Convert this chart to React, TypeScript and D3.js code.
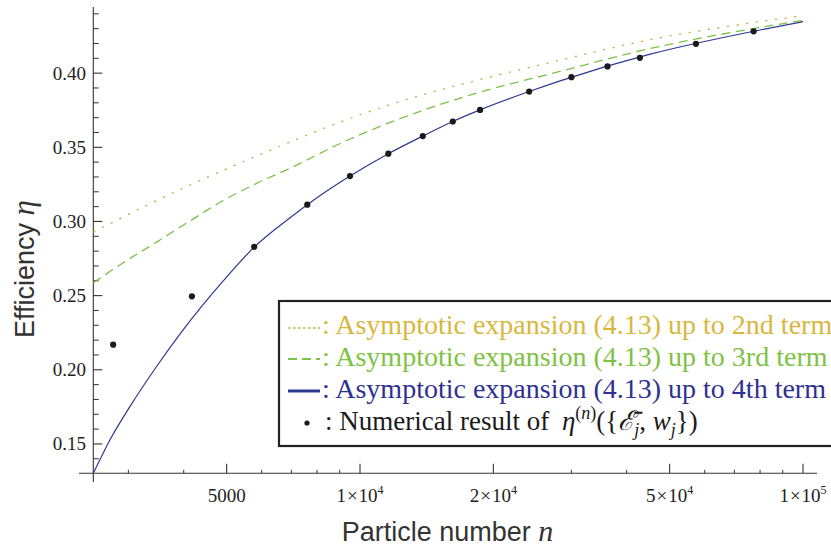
import React from 'react';
import * as d3 from 'd3';

// values
const nTerm2 = [2500, 3240, 4201, 5173, 6596, 9333, 13192, 18664, 27560, 45200, 76040, 100000];
const etaTerm2 = [0.2928, 0.3097, 0.3255, 0.3374, 0.3507, 0.3687, 0.3836, 0.3957, 0.4079, 0.4226, 0.4338, 0.4388];

const nTerm3 = [2500, 2920, 3474, 4130, 4911, 5844, 6830, 9333, 13192, 18664, 27560, 45200, 76040, 100000];
const etaTerm3 = [0.2586, 0.2722, 0.2861, 0.3003, 0.3141, 0.3257, 0.3348, 0.3546, 0.3726, 0.3872, 0.4003, 0.4166, 0.4297, 0.4356];

const nTerm4 = [2500, 2725, 3024, 3474, 3956, 4911, 5770, 6950, 7603, 9493, 11586, 13860, 16196, 18664, 24090, 28300, 45200, 77240, 100000];
const etaTerm4 = [0.1302, 0.1527, 0.1752, 0.2022, 0.2255, 0.2599, 0.2827, 0.3025, 0.3113, 0.3306, 0.3457, 0.3576, 0.3674, 0.3752, 0.3876, 0.3948, 0.4128, 0.4282, 0.4347];

const nNumerical = [2772, 4174, 5770, 7603, 9493, 11586, 13860, 16196, 18664, 24090, 30010, 36200, 42830, 57330, 77360];
const etaNumerical = [0.2169, 0.2495, 0.2829, 0.3113, 0.3306, 0.3457, 0.3576, 0.3674, 0.3752, 0.3876, 0.3973, 0.4045, 0.4103, 0.4198, 0.4282];

const xMajorTicks = [5000, 10000, 20000, 50000, 100000];
const xMajorMantissa = ['5000', '1', '2', '5', '1'];
const xMajorExponent = ['', '4', '4', '4', '5'];
const xMinorTicks = [3000, 4000, 6000, 7000, 8000, 9000, 30000, 40000, 60000, 70000, 80000, 90000];

const yMajorTicks = [0.15, 0.2, 0.25, 0.3, 0.35, 0.4];
const yMajorLabels = ['0.15', '0.20', '0.25', '0.30', '0.35', '0.40'];
const yMinorTicks = [0.14, 0.16, 0.17, 0.18, 0.19, 0.21, 0.22, 0.23, 0.24, 0.26, 0.27, 0.28, 0.29,
    0.31, 0.32, 0.33, 0.34, 0.36, 0.37, 0.38, 0.39, 0.41, 0.42, 0.43, 0.44];

const legendLabels = [
    ': Asymptotic expansion (4.13) up to 2nd term',
    ': Asymptotic expansion (4.13) up to 3rd term',
    ': Asymptotic expansion (4.13) up to 4th term',
];

const yellowLine = '#c4b04a';
const yellowText = '#d8b73c';
const greenLine = '#7cc24a';
const greenText = '#7dc243';
const blueLine = '#2d3a92';
const blueText = '#2e3192';
const axisColor = '#333';

const serif = '"Liberation Serif", "Times New Roman", serif';
const sans = '"Liberation Sans", Arial, sans-serif';

const App = () => {
    const width = 831, height = 548;
    const x0 = 93.3, x1 = 803;
    const yTop = 7, yBottom = 473.3;

    const xScale = d3.scaleLog().domain([2500, 100000]).range([x0, x1]);
    const yScale = d3.scaleLinear().domain([0.1302, 0.4446]).range([yBottom, yTop]);

    const line = (ns, etas) => d3.line()
        .x(d => xScale(d[0]))
        .y(d => yScale(d[1]))
        .curve(d3.curveMonotoneX)(ns.map((n, i) => [n, etas[i]]));

    const legendTop = 301;
    const rowY = [334, 366, 398, 430];
    const legendFont = 28;

    return (
        <svg width={width} height={height} style={{ position: 'absolute', left: 0, top: 0, background: '#fff' }}>
            {/* axes */}
            <line x1={x0} y1={yTop} x2={x0} y2={482} stroke={axisColor} strokeWidth={1.1} />
            <line x1={79} y1={yBottom} x2={817} y2={yBottom} stroke={axisColor} strokeWidth={1.1} />

            {yMinorTicks.map(t => (
                <line key={'ym' + t} x1={x0} x2={x0 + 5.5} y1={yScale(t)} y2={yScale(t)} stroke={axisColor} strokeWidth={1} />
            ))}
            {yMajorTicks.map((t, i) => (
                <g key={'yM' + t}>
                    <line x1={x0} x2={x0 + 9} y1={yScale(t)} y2={yScale(t)} stroke={axisColor} strokeWidth={1.1} />
                    <text x={86} y={yScale(t) + 6.5} textAnchor="end" fontFamily={serif} fontSize={19} fill="#222">
                        {yMajorLabels[i]}
                    </text>
                </g>
            ))}

            {xMinorTicks.map(t => (
                <line key={'xm' + t} x1={xScale(t)} x2={xScale(t)} y1={yBottom} y2={yBottom - 3.5} stroke={axisColor} strokeWidth={1} />
            ))}
            {xMajorTicks.map((t, i) => (
                <g key={'xM' + t}>
                    <line x1={xScale(t)} x2={xScale(t)} y1={yBottom} y2={yBottom - 9.5} stroke={axisColor} strokeWidth={1.1} />
                    <text x={xScale(t)} y={502} textAnchor="middle" fontFamily={serif} fontSize={19} fill="#222">
                        {xMajorExponent[i] === '' ? xMajorMantissa[i] : (
                            <>
                                <tspan>{xMajorMantissa[i]}</tspan>
                                <tspan dx={1}>×</tspan>
                                <tspan dx={1}>10</tspan>
                                <tspan dy={-8} fontSize={12}>{xMajorExponent[i]}</tspan>
                            </>
                        )}
                    </text>
                </g>
            ))}

            {/* axis titles */}
            <text x={341.7} y={541} fontFamily={sans} fontSize={27} fill="#333">
                Particle number <tspan fontFamily={serif} fontStyle="italic" fontSize={30}>n</tspan>
            </text>
            <text transform="translate(34,338) rotate(-90)" fontFamily={sans} fontSize={27} fill="#333">
                Efficiency <tspan fontFamily={serif} fontStyle="italic" fontSize={31}>η</tspan>
            </text>

            {/* curves */}
            <path d={line(nTerm2, etaTerm2)} fill="none" stroke={yellowLine} strokeWidth={1.3} strokeDasharray="2.2,7.5" />
            <path d={line(nTerm3, etaTerm3)} fill="none" stroke={greenLine} strokeWidth={1.3} strokeDasharray="9,5.5" />
            <path d={line(nTerm4, etaTerm4)} fill="none" stroke={blueLine} strokeWidth={1.2} />

            {nNumerical.map((n, i) => (
                <circle key={'pt' + i} cx={xScale(n)} cy={yScale(etaNumerical[i])} r={3.1} fill="#1a1a1a" />
            ))}

            {/* legend */}
            <rect x={279} y={legendTop} width={570} height={145} fill="#fff" stroke="#222" strokeWidth={2.2} />
            <line x1={288} x2={320} y1={rowY[0] - 6} y2={rowY[0] - 6} stroke={yellowLine} strokeWidth={1.5} strokeDasharray="2.5,2.5" />
            <line x1={288} x2={320} y1={rowY[1] - 7} y2={rowY[1] - 7} stroke={greenLine} strokeWidth={1.8} strokeDasharray="9,5" />
            <line x1={288} x2={320} y1={rowY[2] - 7} y2={rowY[2] - 7} stroke={blueLine} strokeWidth={3} />
            <circle cx={307} cy={rowY[3] - 7} r={2.6} fill="#1a1a1a" />
            <text x={322} y={rowY[0]} fontFamily={serif} fontSize={legendFont} fill={yellowText}>{legendLabels[0]}</text>
            <text x={322} y={rowY[1]} fontFamily={serif} fontSize={legendFont} fill={greenText}>{legendLabels[1]}</text>
            <text x={322} y={rowY[2]} fontFamily={serif} fontSize={legendFont} fill={blueText}>{legendLabels[2]}</text>
            <text x={325} y={rowY[3]} fontFamily={serif} fontSize={legendFont - 1} fill="#1a1a1a">
                <tspan>: Numerical result of </tspan>
                <tspan dx={6} fontStyle="italic">η</tspan>
                <tspan dy={-11} fontSize={18}>(</tspan>
                <tspan fontSize={18} fontStyle="italic">n</tspan>
                <tspan fontSize={18}>)</tspan>
                <tspan dy={11}>({'{'}</tspan>
                <tspan fontStyle="italic">{'\u2130\u0304'}</tspan>
                <tspan dy={6} fontSize={18} fontStyle="italic">j</tspan>
                <tspan dy={-6}>, </tspan>
                <tspan fontStyle="italic">w</tspan>
                <tspan dy={6} fontSize={18} fontStyle="italic">j</tspan>
                <tspan dy={-6}>{'}'})</tspan>
            </text>
        </svg>
    );
};

export default App;
